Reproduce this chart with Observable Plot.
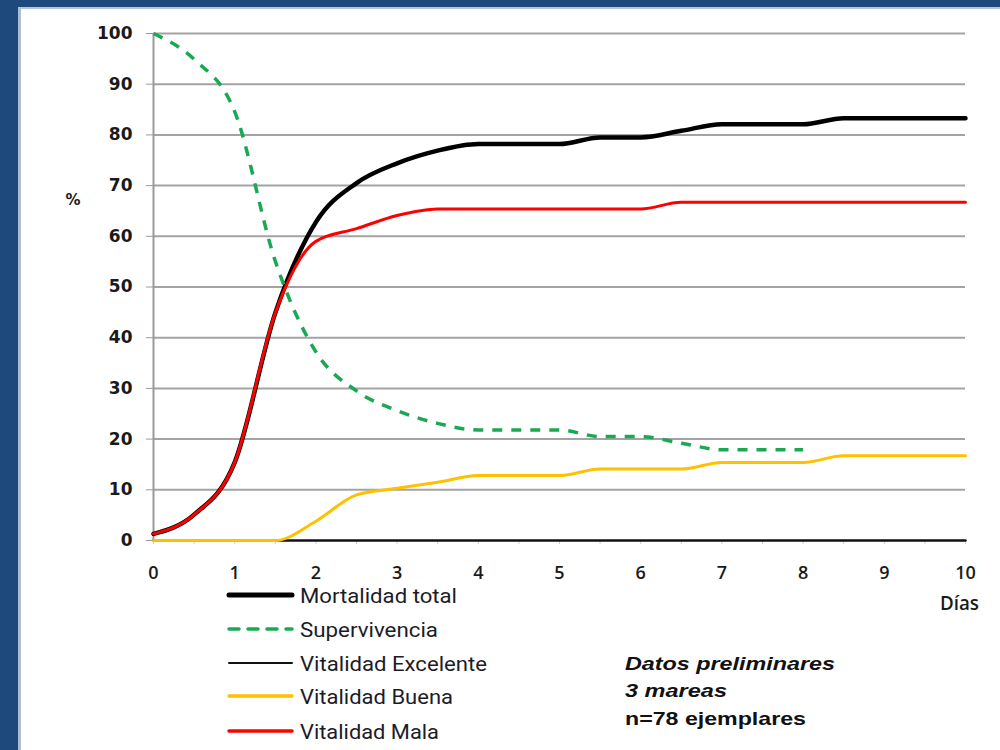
<!DOCTYPE html>
<html><head><meta charset="utf-8">
<script src="https://cdn.jsdelivr.net/npm/d3@7"></script>
<script src="https://cdn.jsdelivr.net/npm/@observablehq/plot@0.6"></script>
<style>
html,body{margin:0;padding:0;}
body{width:1000px;height:750px;background:#1e497d;position:relative;overflow:hidden;}
#panel{position:absolute;left:18px;top:7px;width:982px;height:743px;background:#fff;border-left:3px solid #aebdd0;border-top:2px solid #b7c4d6;box-sizing:border-box}
#chart{position:absolute;left:0;top:0;}
#overlay{position:absolute;left:0;top:0;}
</style></head><body>
<div id="panel"></div>
<div id="chart"></div>
<svg id="overlay" width="1000" height="750"></svg>
<script>
// ---- data (percent of n=78 specimens) ----
const dias = [0,0.5,1,1.5,2,2.5,3,3.5,4,4.5,5,5.5,6,6.5,7,7.5,8,8.5,9,9.5,10];
const mortalidadTotal = [1.3,5.1,15.4,44.9,62.8,70.5,74.4,76.9,78.2,78.2,78.2,79.5,79.5,80.8,82.1,82.1,82.1,83.3,83.3,83.3,83.3];
const supervivencia   = [100,94.9,84.6,55.1,37.2,29.5,25.6,23.1,21.8,21.8,21.8,20.5,20.5,19.2,17.9,17.9,17.9];
const vitalidadExcelente = [0,0,0,0,0,0,0,0,0,0,0,0,0,0,0,0,0,0,0,0,0];
const vitalidadBuena  = [0,0,0,0,3.8,9.0,10.3,11.5,12.8,12.8,12.8,14.1,14.1,14.1,15.4,15.4,15.4,16.7,16.7,16.7,16.7];
const vitalidadMala   = [1.3,5.1,15.4,44.9,59.0,61.5,64.1,65.4,65.4,65.4,65.4,65.4,65.4,66.7,66.7,66.7,66.7,66.7,66.7,66.7,66.7];
const seriesNames = ["Mortalidad total","Supervivencia","Vitalidad Excelente","Vitalidad Buena","Vitalidad Mala"];
const xTicks = [0,1,2,3,4,5,6,7,8,9,10];
const xMinorTicks = [0,0.5,1,1.5,2,2.5,3,3.5,4,4.5,5,5.5,6,6.5,7,7.5,8,8.5,9,9.5,10];
const yTicks = [0,10,20,30,40,50,60,70,80,90,100];
const notes = ["Datos preliminares","3 mareas","n=78 ejemplares"];

const seriesValues = [mortalidadTotal, supervivencia, vitalidadExcelente, vitalidadBuena, vitalidadMala];
const table = [];
seriesNames.forEach((s, i) => seriesValues[i].forEach((v, j) => table.push({serie: s, dia: dias[j], valor: v})));
const styles = {
  "Mortalidad total": {stroke: "#000", strokeWidth: 4.5},
  "Supervivencia": {stroke: "#1aa852", strokeWidth: 3.5, strokeDasharray: "10,9"},
  "Vitalidad Excelente": {stroke: "#111", strokeWidth: 2.5},
  "Vitalidad Buena": {stroke: "#ffc000", strokeWidth: 3},
  "Vitalidad Mala": {stroke: "#ff0000", strokeWidth: 3}
};

const plot = Plot.plot({
  width: 1000, height: 600,
  marginLeft: 153, marginRight: 35, marginTop: 33, marginBottom: 60,
  x: {domain: [0, 10]},
  y: {domain: [0, 100]},
  marks: [
    Plot.gridY(yTicks.filter(d => d > 0), {stroke: "#a3a3a3", strokeOpacity: 1, strokeWidth: 2}),
    Plot.ruleX([0], {stroke: "#9a9a9a", strokeWidth: 2}),
    Plot.axisY(yTicks, {tickSize: 7, tickPadding: 14, fontSize: 17, fontWeight: "bold", fontFamily: "DejaVu Sans", fill: "#1a1a1a", stroke: "#9a9a9a", label: null}),
    Plot.axisX(xMinorTicks, {tickSize: 4, text: null, stroke: "#cfcfcf", label: null}),
    Plot.axisX(xTicks, {tickSize: 0, tickPadding: 26, fontSize: 18, fontWeight: 600, fontFamily: "Open Sans", fill: "#1a1a1a", label: null}),
    ...seriesNames.map(s => Plot.line(table.filter(d => d.serie === s), {
      x: "dia", y: "valor", curve: "monotone-x", strokeLinejoin: "round", strokeLinecap: s === "Supervivencia" ? "butt" : "round", ...styles[s]
    }))
  ]
});
plot.style.background = "transparent";
plot.style.overflow = "visible";
document.getElementById("chart").appendChild(plot);

// ---- overlay: axis titles, legend, notes ----
const ov = d3.select("#overlay");
ov.append("text").attr("x", 73).attr("y", 205).attr("text-anchor", "middle")
  .attr("font-family", "DejaVu Sans").attr("font-weight", "bold").attr("font-size", 15).attr("fill", "#1a1a1a").text("%");
ov.append("text").attr("x", 940).attr("y", 610).attr("textLength", 39).attr("lengthAdjust", "spacingAndGlyphs")
  .attr("font-family", "Open Sans").attr("font-weight", 600).attr("font-size", 19).attr("fill", "#1a1a1a").text("Días");

const legendY = [595, 629, 663, 696, 731];
const legendW = [157, 138, 187, 153, 139];
seriesNames.forEach((s, i) => {
  const st = styles[s];
  ov.append("line").attr("x1", 229).attr("x2", 292).attr("y1", legendY[i]).attr("y2", legendY[i])
    .attr("stroke", st.stroke).attr("stroke-width", i === 0 ? 5 : (i === 2 ? 2 : 3.5))
    .attr("stroke-dasharray", st.strokeDasharray || null).attr("stroke-linecap", "round");
  ov.append("text").attr("x", 300).attr("y", legendY[i] + 8).attr("textLength", legendW[i]).attr("lengthAdjust", "spacingAndGlyphs")
    .attr("font-family", "Roboto").attr("font-size", 20).attr("fill", "#1c1c28").text(s);
});

const noteY = [670, 697, 725];
const noteW = [210, 102, 181];
notes.forEach((t, i) => {
  ov.append("text").attr("x", 625).attr("y", noteY[i]).attr("textLength", noteW[i]).attr("lengthAdjust", "spacingAndGlyphs")
    .attr("font-family", "Liberation Sans").attr("font-weight", "bold").attr("font-style", i < 2 ? "italic" : "normal")
    .attr("font-size", 19).attr("fill", "#111").text(t);
});
</script>
</body></html>
